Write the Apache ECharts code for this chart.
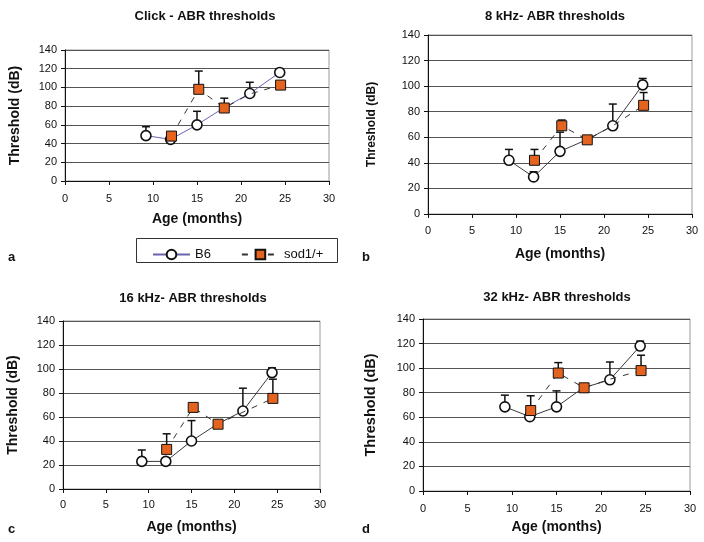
<!DOCTYPE html>
<html>
<head>
<meta charset="utf-8">
<script src="https://cdn.jsdelivr.net/npm/echarts@6/dist/echarts.min.js"></script>
<style>html,body{margin:0;padding:0;background:#fff;}#c{width:704px;height:542px;}</style>
</head>
<body>
<div id="c"></div>
<script>
// ---- data ----
const titles = ['Click - ABR thresholds', '8 kHz- ABR thresholds', '16 kHz- ABR thresholds', '32 kHz- ABR thresholds'];
const panelLetters = ['a', 'b', 'c', 'd'];
const ageB6 = [9.2, 12, 15, 18, 21, 24.4];
const ageSod = [12.1, 15.2, 18.1, 21, 24.5];
const hiddenB6 = [false, false, false, true, false, false];
const hiddenSod = [false, false, false, true, false];

const clickB6 = [48.5, 44.5, 60, 78, 93.5, 116];
const clickB6Sd = [9.5, 0, 14.5, 0, 12, 4];
const clickSod = [48, 98, 78, 93, 102.5];
const clickSodSd = [0, 19.5, 10.5, 0, 0];

const k8B6 = [42, 29, 49, 58, 69, 101];
const k8B6Sd = [8.5, 4, 15, 0, 17, 5];
const k8Sod = [42, 69, 58, 69, 85];
const k8SodSd = [8.5, 4.5, 0, 0, 10];

const k16B6 = [23, 23, 40, 54, 65, 97];
const k16B6Sd = [9.5, 0, 17, 0, 19, 4];
const k16Sod = [33, 68, 54, 64, 75.5];
const k16SodSd = [13, 2.5, 0, 0, 16];

const k32B6 = [68.5, 60.5, 68.5, 84, 90.5, 118];
const k32B6Sd = [9.5, 0, 13, 0, 14.5, 4];
const k32Sod = [65.5, 96, 84, 91, 98];
const k32SodSd = [12, 8.5, 0, 0, 12.5];

const yTicks = [0, 20, 40, 60, 80, 100, 120, 140];
const xTicks = [0, 5, 10, 15, 20, 25, 30];

const panels = [
  {b6: clickB6, b6sd: clickB6Sd, sod: clickSod, sodsd: clickSodSd},
  {b6: k8B6, b6sd: k8B6Sd, sod: k8Sod, sodsd: k8SodSd},
  {b6: k16B6, b6sd: k16B6Sd, sod: k16Sod, sodsd: k16SodSd},
  {b6: k32B6, b6sd: k32B6Sd, sod: k32Sod, sodsd: k32SodSd}
];

// ---- layout ----
const FONT = 'Liberation Sans, Arial, sans-serif';
const grids = [
  {left: 65, top: 50, width: 264, height: 131},
  {left: 428, top: 35, width: 264, height: 179},
  {left: 63, top: 321, width: 257, height: 168},
  {left: 423, top: 319, width: 267, height: 172}
];
const titlePos = [[200, 5], [550, 5], [188, 287], [552, 286]];
const xNameGap = [31, 33, 31, 29];
const yNameGap = [43, 50, 43, 45];
const yNameSize = [14, 12, 14, 14.5];
const xLabelMargin = [12, 11, 10, 12];
const letterPos = [[8, 251], [362, 251], [8, 523], [362, 523]];
const b6LineColors = ['#6a64b0', '#3a3a3a', '#3a3a3a', '#3a3a3a'];

const option = {
  animation: false,
  backgroundColor: '#fff',
  title: titles.map((t, i) => ({
    text: t, left: titlePos[i][0], top: titlePos[i][1], textAlign: 'center',
    textStyle: {fontFamily: FONT, fontSize: 13, fontWeight: 'bold', color: '#111'}
  })),
  grid: grids.map(g => Object.assign({show: true, borderColor: '#9a9a9a', borderWidth: 1, backgroundColor: '#fff'}, g)),
  xAxis: grids.map((g, i) => ({
    type: 'value', gridIndex: i, min: 0, max: 30, interval: 5,
    name: 'Age (months)', nameLocation: 'middle', nameGap: xNameGap[i],
    nameTextStyle: {fontFamily: FONT, fontSize: 14, fontWeight: 'bold', color: '#111'},
    axisLine: {show: true, lineStyle: {color: '#111', width: 1}},
    axisTick: {show: true, length: 4, lineStyle: {color: '#111'}},
    axisLabel: {fontFamily: FONT, fontSize: 11, color: '#111', margin: xLabelMargin[i],
      formatter: v => xTicks.includes(v) ? String(v) : ''},
    splitLine: {show: false}
  })),
  yAxis: grids.map((g, i) => ({
    type: 'value', gridIndex: i, min: 0, max: 140, interval: 20,
    name: 'Threshold (dB)', nameLocation: 'middle', nameGap: yNameGap[i], nameRotate: 90,
    nameTextStyle: {fontFamily: FONT, fontSize: yNameSize[i], fontWeight: 'bold', color: '#111'},
    axisLine: {show: true, lineStyle: {color: '#111', width: 1}},
    axisTick: {show: true, length: 4, lineStyle: {color: '#111'}},
    axisLabel: {fontFamily: FONT, fontSize: 11, color: '#111', margin: 8,
      formatter: v => yTicks.includes(v) ? String(v) : ''},
    splitLine: {show: true, lineStyle: {color: '#555', width: 1}}
  })),
  legend: {
    show: true, left: 147, top: 243, itemWidth: 37, itemHeight: 12, itemGap: 30,
    textStyle: {fontFamily: FONT, fontSize: 13, color: '#111'},
    data: ['B6', 'sod1/+']
  },
  graphic: [
    {type: 'rect', shape: {x: 136.5, y: 238.5, width: 201, height: 24},
     style: {fill: 'none', stroke: '#333', lineWidth: 1}, z: -1},
    ...panelLetters.map((l, i) => ({
      type: 'text', left: letterPos[i][0], top: letterPos[i][1],
      style: {text: l, font: 'bold 13px ' + FONT, fill: '#111'}
    }))
  ],
  series: []
};

function errSeries(i, xs, ys, sds, name) {
  const data = xs.map((x, k) => [x, ys[k], ys[k] + sds[k], sds[k]]);
  return {
    type: 'custom', name: name + ' err', xAxisIndex: i, yAxisIndex: i, z: 1,
    silent: true, legendHoverLink: false,
    data: data,
    renderItem: (params, api) => {
      if (api.value(3) <= 0) return null;
      const p0 = api.coord([api.value(0), api.value(1)]);
      const p1 = api.coord([api.value(0), api.value(2)]);
      const w = 4;
      return {
        type: 'group',
        children: [
          {type: 'line', shape: {x1: p0[0], y1: p0[1], x2: p1[0], y2: p1[1]}, style: {stroke: '#111', lineWidth: 1.5}},
          {type: 'line', shape: {x1: p1[0] - w, y1: p1[1], x2: p1[0] + w, y2: p1[1]}, style: {stroke: '#111', lineWidth: 1.5}}
        ]
      };
    }
  };
}

panels.forEach((p, i) => {
  option.series.push(errSeries(i, ageB6, p.b6, p.b6sd, 'B6'));
  option.series.push(errSeries(i, ageSod, p.sod, p.sodsd, 'sod1/+'));
});
panels.forEach((p, i) => {
  option.series.push({
    type: 'line', name: 'B6', xAxisIndex: i, yAxisIndex: i, z: 3,
    data: ageB6.map((x, k) => hiddenB6[k] ? {value: [x, p.b6[k]], symbol: 'none'} : [x, p.b6[k]]),
    symbol: 'circle', symbolSize: 10,
    itemStyle: {color: '#fff', borderColor: '#111', borderWidth: 1.6},
    lineStyle: {color: b6LineColors[i], width: 1},
    emphasis: {disabled: true}
  });
});
panels.forEach((p, i) => {
  option.series.push({
    type: 'line', name: 'sod1/+', xAxisIndex: i, yAxisIndex: i, z: 4,
    data: ageSod.map((x, k) => hiddenSod[k] ? {value: [x, p.sod[k]], symbol: 'none'} : [x, p.sod[k]]),
    symbol: 'rect', symbolSize: 10,
    itemStyle: {color: '#e4641f', borderColor: '#111', borderWidth: 1},
    lineStyle: {color: '#333', width: 1, type: [6, 7]},
    emphasis: {disabled: true}
  });
});

const chart = echarts.init(document.getElementById('c'), null, {renderer: 'canvas'});
chart.setOption(option);
</script>
</body>
</html>
